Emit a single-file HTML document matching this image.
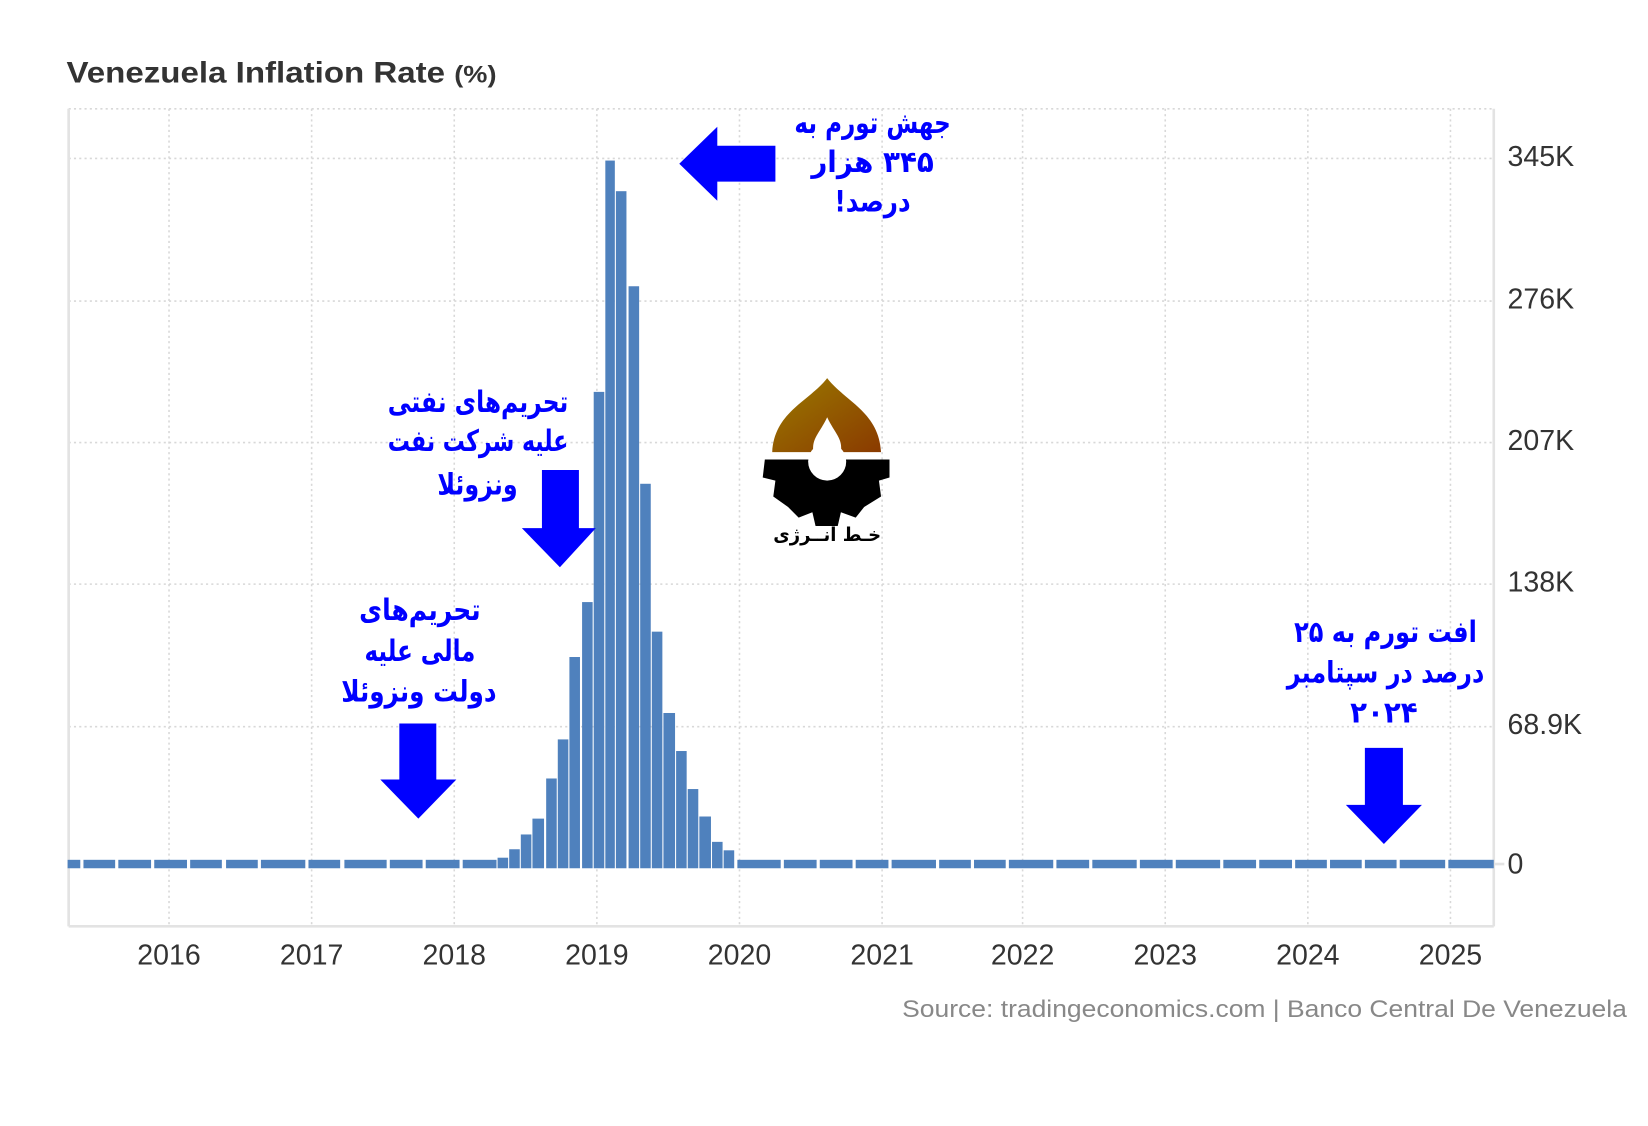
<!DOCTYPE html>
<html><head><meta charset="utf-8"><style>
html,body{margin:0;padding:0;background:#fff;}
svg{display:block;}
</style></head><body>
<svg width="1648" height="1126" viewBox="0 0 1560 1066" preserveAspectRatio="none" xmlns="http://www.w3.org/2000/svg">
<rect width="1560" height="1066" fill="#fff"/>
<text x="63" y="78" font-family="Liberation Sans, sans-serif" font-weight="bold" font-size="28" fill="#333" textLength="407" lengthAdjust="spacingAndGlyphs">Venezuela Inflation Rate <tspan font-size="23">(%)</tspan></text>
<g stroke="#d8d8d8" stroke-width="1.5" stroke-dasharray="2,3" fill="none">
<line x1="65" y1="103" x2="1414" y2="103"/>
<line x1="65" y1="150" x2="1414" y2="150"/>
<line x1="65" y1="285" x2="1414" y2="285"/>
<line x1="65" y1="419" x2="1414" y2="419"/>
<line x1="65" y1="553" x2="1414" y2="553"/>
<line x1="65" y1="688" x2="1414" y2="688"/>
<line x1="160" y1="103" x2="160" y2="876"/>
<line x1="295" y1="103" x2="295" y2="876"/>
<line x1="430" y1="103" x2="430" y2="876"/>
<line x1="565" y1="103" x2="565" y2="876"/>
<line x1="700" y1="103" x2="700" y2="876"/>
<line x1="835" y1="103" x2="835" y2="876"/>
<line x1="968" y1="103" x2="968" y2="876"/>
<line x1="1103" y1="103" x2="1103" y2="876"/>
<line x1="1238" y1="103" x2="1238" y2="876"/>
<line x1="1373" y1="103" x2="1373" y2="876"/>
</g>
<g stroke="#e3e3e3" stroke-width="2.5" fill="none">
<line x1="65" y1="103" x2="65" y2="877"/>
<line x1="65" y1="877" x2="1414" y2="877"/>
<line x1="1414" y1="103" x2="1414" y2="877"/>
<line x1="1414" y1="818" x2="1424" y2="818"/>
</g>
<g fill="#4f81bd">
<rect x="64" y="814" width="12" height="8"/><rect x="79" y="814" width="30" height="8"/><rect x="112" y="814" width="31" height="8"/><rect x="146" y="814" width="31" height="8"/><rect x="180" y="814" width="30" height="8"/><rect x="214" y="814" width="30" height="8"/><rect x="247" y="814" width="42" height="8"/><rect x="292" y="814" width="30" height="8"/><rect x="326" y="814" width="40" height="8"/><rect x="369" y="814" width="31" height="8"/><rect x="403" y="814" width="32" height="8"/><rect x="438" y="814" width="32" height="8"/>
<rect x="471" y="812" width="10" height="10"/>
<rect x="482" y="804" width="10" height="18"/>
<rect x="493" y="790" width="10" height="32"/>
<rect x="504" y="775" width="11" height="47"/>
<rect x="517" y="737" width="10" height="85"/>
<rect x="528" y="700" width="10" height="122"/>
<rect x="539" y="622" width="10" height="200"/>
<rect x="551" y="570" width="10" height="252"/>
<rect x="562" y="371" width="10" height="451"/>
<rect x="573" y="152" width="9" height="670"/>
<rect x="583" y="181" width="10" height="641"/>
<rect x="595" y="271" width="10" height="551"/>
<rect x="606" y="458" width="10" height="364"/>
<rect x="617" y="598" width="10" height="224"/>
<rect x="628" y="675" width="11" height="147"/>
<rect x="640" y="711" width="10" height="111"/>
<rect x="651" y="747" width="10" height="75"/>
<rect x="662" y="773" width="11" height="49"/>
<rect x="674" y="797" width="10" height="25"/>
<rect x="685" y="805" width="10" height="17"/>
<rect x="698" y="814" width="41" height="8"/><rect x="742" y="814" width="31" height="8"/><rect x="776" y="814" width="31" height="8"/><rect x="810" y="814" width="31" height="8"/><rect x="844" y="814" width="42" height="8"/><rect x="889" y="814" width="30" height="8"/><rect x="922" y="814" width="30" height="8"/><rect x="955" y="814" width="42" height="8"/><rect x="1000" y="814" width="31" height="8"/><rect x="1034" y="814" width="42" height="8"/><rect x="1079" y="814" width="31" height="8"/><rect x="1113" y="814" width="42" height="8"/><rect x="1158" y="814" width="31" height="8"/><rect x="1192" y="814" width="31" height="8"/><rect x="1226" y="814" width="30" height="8"/><rect x="1259" y="814" width="30" height="8"/><rect x="1292" y="814" width="30" height="8"/><rect x="1325" y="814" width="43" height="8"/><rect x="1371" y="814" width="43" height="8"/>
</g>
<g font-family="Liberation Sans, sans-serif" font-size="27" fill="#333">
<text x="1427" y="157">345K</text>
<text x="1427" y="292">276K</text>
<text x="1427" y="426">207K</text>
<text x="1427" y="560">138K</text>
<text x="1427" y="695">68.9K</text>
<text x="1427" y="827">0</text>
<g text-anchor="middle">
<text x="160" y="913">2016</text><text x="295" y="913">2017</text><text x="430" y="913">2018</text><text x="565" y="913">2019</text><text x="700" y="913">2020</text><text x="835" y="913">2021</text><text x="968" y="913">2022</text><text x="1103" y="913">2023</text><text x="1238" y="913">2024</text><text x="1373" y="913">2025</text>
</g>
</g>
<text x="1540" y="963" text-anchor="end" font-family="Liberation Sans, sans-serif" font-size="23" fill="#888" textLength="686" lengthAdjust="spacingAndGlyphs">Source: tradingeconomics.com | Banco Central De Venezuela</text>
<g fill="#0000ff">
<polygon points="643,155 679,120 679,138 734,138 734,172 679,172 679,190"/>
<polygon points="513,445 548,445 548,500 564,500 530,537 494,500 513,500"/>
<polygon points="378,685 413,685 413,738 432,738 396,775 360,738 378,738"/>
<polygon points="1292,708 1328,708 1328,762 1346,762 1310,799 1274,762 1292,762"/>
</g>
<g font-family="'DejaVu Sans', sans-serif" font-weight="bold" font-size="28" fill="#0000ff" direction="rtl" lengthAdjust="spacingAndGlyphs">
<text x="900" y="126" textLength="148" lengthAdjust="spacingAndGlyphs">جهش تورم به</text>
<text x="884" y="163" textLength="116" lengthAdjust="spacingAndGlyphs">۳۴۵ هزار</text>
<text x="862" y="200" textLength="72" lengthAdjust="spacingAndGlyphs">درصد!</text>
<text x="538" y="390" textLength="171" lengthAdjust="spacingAndGlyphs">تحریم‌های نفتی</text>
<text x="538" y="427" textLength="171" lengthAdjust="spacingAndGlyphs">علیه شرکت نفت</text>
<text x="490" y="468" textLength="76" lengthAdjust="spacingAndGlyphs">ونزوئلا</text>
<text x="455" y="587" textLength="115" lengthAdjust="spacingAndGlyphs">تحریم‌های</text>
<text x="450" y="626" textLength="105" lengthAdjust="spacingAndGlyphs">مالی علیه</text>
<text x="470" y="664" textLength="147" lengthAdjust="spacingAndGlyphs">دولت ونزوئلا</text>
<text x="1398" y="608" textLength="173" lengthAdjust="spacingAndGlyphs">افت تورم به ۲۵</text>
<text x="1405" y="646" textLength="187" lengthAdjust="spacingAndGlyphs">درصد در سپتامبر</text>
<text x="1342" y="684" textLength="64" lengthAdjust="spacingAndGlyphs">۲۰۲۴</text>
</g>
<defs><linearGradient id="g" x1="0" y1="0" x2="1" y2="1"><stop offset="0" stop-color="#9a7a00"/><stop offset="1" stop-color="#8a3a00"/></linearGradient></defs>
<path d="M783,358 C800,380 832,390 834,428 L731,428 C733,390 766,380 783,358 Z" fill="url(#g)"/>
<path d="M783,395 C776,410 768,415 770,428 L796,428 C798,415 790,410 783,395 Z" fill="#fff"/>
<path d="M724,435 L842,435 L842,452 L832,455 L834,470 L818,480 L810,490 L796,485 L793,498 L772,498 L769,485 L756,490 L746,480 L732,470 L734,455 L722,452 Z" fill="#000"/>
<circle cx="783" cy="437" r="18" fill="#fff"/>
<text x="834" y="512" font-family="'DejaVu Sans', sans-serif" font-weight="bold" font-size="18" fill="#000" direction="rtl" textLength="102" lengthAdjust="spacingAndGlyphs">خـط انــرژی</text>
</svg>
</body></html>
